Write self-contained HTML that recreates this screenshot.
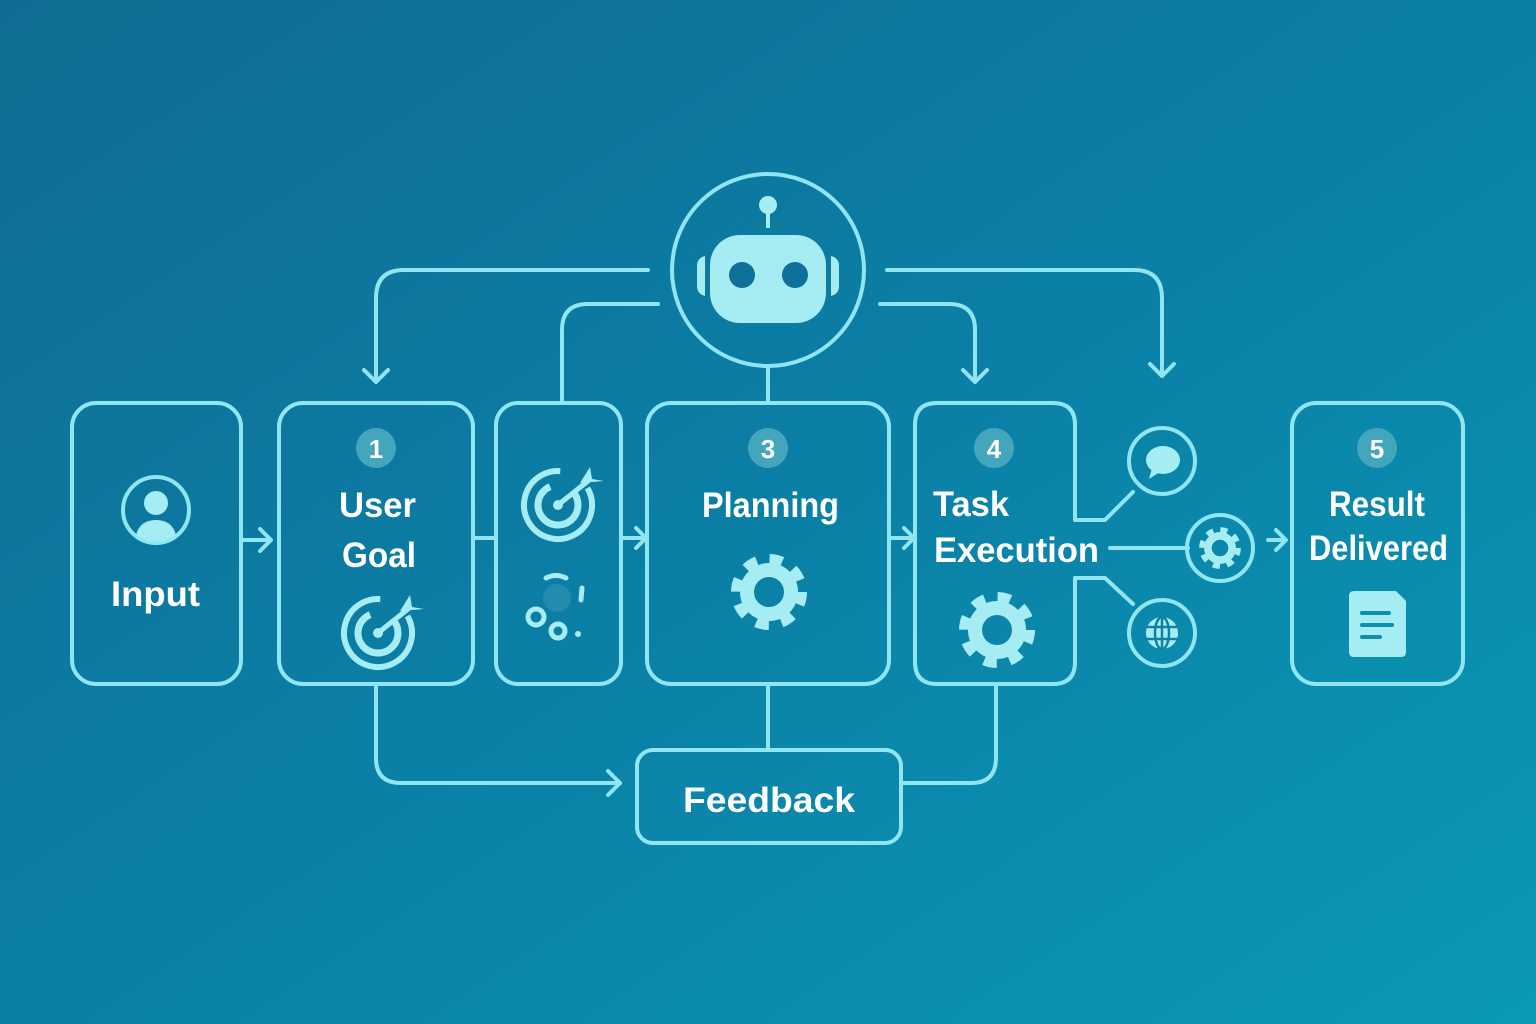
<!DOCTYPE html>
<html><head><meta charset="utf-8"><style>
html,body{margin:0;padding:0;width:1536px;height:1024px;overflow:hidden}
svg{display:block}
text{font-family:"Liberation Sans","DejaVu Sans",sans-serif;fill:#fff;font-weight:bold}
</style></head><body>
<svg width="1536" height="1024" viewBox="0 0 1536 1024" xmlns="http://www.w3.org/2000/svg">
<defs>
<linearGradient id="bg" x1="0" y1="0" x2="1" y2="1">
<stop offset="0" stop-color="#106c93"/><stop offset="0.5" stop-color="#0b7fa6"/><stop offset="1" stop-color="#0a9ab5"/>
</linearGradient>
<g id="gear">
<circle r="31" fill="none" stroke="#a6ecf3" stroke-width="14" stroke-dasharray="12.2 12.2"/>
<circle r="22" fill="none" stroke="#a6ecf3" stroke-width="14"/>
</g>
<g id="target">
<circle r="34" fill="none" stroke="#a6ecf3" stroke-width="6" stroke-dasharray="180 34" transform="rotate(-30)"/>
<circle r="20" fill="none" stroke="#a6ecf3" stroke-width="7" stroke-dasharray="100 26" transform="rotate(-40)"/>
<circle r="5" fill="#a6ecf3"/>
<line x1="0" y1="0" x2="30" y2="-24" stroke="#a6ecf3" stroke-width="5" stroke-linecap="round"/>
<path d="M22 -22 L32 -38 L34 -26 L46 -24 Z" fill="#a6ecf3"/>
</g>
</defs>
<rect width="1536" height="1024" fill="url(#bg)"/>
<g fill="none" stroke="#8fe6f0" stroke-width="4" stroke-linecap="round" stroke-linejoin="round">
<rect x="72" y="403" width="169" height="281" rx="24"/>
<rect x="279" y="403" width="194" height="281" rx="24"/>
<rect x="496" y="403" width="125" height="281" rx="22"/>
<rect x="647" y="403" width="242" height="281" rx="24"/>
<rect x="1292" y="403" width="171" height="281" rx="24"/>
<rect x="637" y="750" width="264" height="93" rx="16"/>
<path d="M1133 492 L1105 520 H1075 V425 Q1075 403 1053 403 H937 Q915 403 915 425 V662 Q915 684 937 684 H1053 Q1075 684 1075 662 V578 H1105 L1133 604"/>
<line x1="1110" y1="548" x2="1188" y2="548"/>
<circle cx="1162" cy="461" r="33"/>
<circle cx="1220" cy="548" r="33"/>
<circle cx="1162" cy="633" r="33"/>
<circle cx="768" cy="270" r="96"/>
<circle cx="156" cy="510" r="33"/>
<path d="M241 540 H270 M260 529 L271 540 L260 551"/>
<path d="M473 538 H496"/>
<path d="M621 538 H645 M636 528 L646 538 L636 548"/>
<path d="M889 538 H913 M904 528 L914 538 L904 548"/>
<path d="M1268 540 H1285 M1276 530 L1286 540 L1276 550"/>
<path d="M648 270 H404 Q376 270 376 298 V382 M364 370 L376 382 L388 370"/>
<path d="M887 270 H1134 Q1162 270 1162 298 V376 M1150 364 L1162 376 L1174 364"/>
<path d="M658 304 H588 Q562 304 562 330 V403"/>
<path d="M880 304 H949 Q975 304 975 330 V382 M963 370 L975 382 L987 370"/>
<path d="M768 366 V403"/>
<path d="M768 684 V750"/>
<path d="M376 684 V758 Q376 783 401 783 H620 M608 771 L620 783 L608 795"/>
<path d="M996 684 V758 Q996 783 971 783 H902"/>
</g>
<g fill="#a6ecf3">
<line x1="768" y1="208" x2="768" y2="228" stroke="#a6ecf3" stroke-width="4"/>
<circle cx="768" cy="205" r="9"/>
<rect x="710" y="235" width="116" height="88" rx="30"/>
<path d="M705 256 Q697 258 697 266 V286 Q697 294 705 296 Z"/>
<path d="M831 256 Q839 258 839 266 V286 Q839 294 831 296 Z"/>
</g>
<circle cx="742" cy="275" r="13" fill="#0f7099"/>
<circle cx="795" cy="275" r="13" fill="#0f7099"/>
<circle cx="156" cy="503" r="12" fill="#a6ecf3"/>
<path d="M136 535 Q140 520 156 520 Q172 520 176 535 Q166 542 156 542 Q146 542 136 535Z" fill="#a6ecf3"/>
<g fill="#4aaabf" opacity="0.9">
<circle cx="376" cy="448" r="20"/><circle cx="768" cy="448" r="20"/><circle cx="994" cy="448" r="20"/><circle cx="1377" cy="448" r="20"/>
</g>
<g font-size="26" text-anchor="middle">
<text x="376" y="458">1</text><text x="768" y="458">3</text><text x="994" y="458">4</text><text x="1377" y="458">5</text>
</g>
<g font-size="35" font-weight="bold" lengthAdjust="spacingAndGlyphs">
<text x="111" y="606" textLength="89" lengthAdjust="spacingAndGlyphs">Input</text>
<text x="339" y="517" textLength="77" lengthAdjust="spacingAndGlyphs">User</text>
<text x="342" y="567" textLength="74" lengthAdjust="spacingAndGlyphs">Goal</text>
<text x="702" y="517" textLength="137" lengthAdjust="spacingAndGlyphs">Planning</text>
<text x="1329" y="516" textLength="96" lengthAdjust="spacingAndGlyphs">Result</text>
<text x="1309" y="560" textLength="139" lengthAdjust="spacingAndGlyphs">Delivered</text>
<text x="683" y="812" textLength="172" lengthAdjust="spacingAndGlyphs">Feedback</text>
<text x="933" y="516" textLength="76" lengthAdjust="spacingAndGlyphs">Task</text>
<text x="934" y="562" textLength="165" lengthAdjust="spacingAndGlyphs">Execution</text>
</g>
<use href="#target" x="378" y="633"/>
<use href="#target" x="558" y="505"/>
<g fill="none" stroke="#a6ecf3" stroke-width="5" stroke-linecap="round">
<path d="M546 578 Q556 573 566 578"/><line x1="582" y1="588" x2="581" y2="600"/>
<circle cx="536" cy="617" r="8"/><circle cx="558" cy="631" r="7"/>
</g>
<circle cx="557" cy="598" r="14" fill="#3b98b5" opacity="0.5"/>
<circle cx="578" cy="634" r="3" fill="#a6ecf3"/>
<use href="#gear" x="769" y="592"/>
<use href="#gear" x="997" y="630"/>
<g transform="translate(1220 548) scale(0.55)"><use href="#gear"/></g>
<ellipse cx="1163" cy="460" rx="17" ry="14" fill="#a6ecf3"/>
<path d="M1152 468 L1149 479 L1160 472Z" fill="#a6ecf3"/>
<circle cx="1162" cy="633" r="16" fill="#a6ecf3"/>
<g fill="none" stroke="#0d82a5" stroke-width="2.5">
<ellipse cx="1162" cy="633" rx="7" ry="16"/><line x1="1146" y1="627" x2="1178" y2="627"/><line x1="1146" y1="639" x2="1178" y2="639"/><line x1="1162" y1="617" x2="1162" y2="649"/>
</g>
<path d="M1350 591 H1396 L1406 601 V652 Q1406 657 1401 657 H1354 Q1349 657 1349 652 V596 Q1349 591 1354 591Z" fill="#a6ecf3"/>
<g stroke="#0d90ae" stroke-width="4" stroke-linecap="round">
<line x1="1362" y1="613" x2="1389" y2="613"/><line x1="1362" y1="625" x2="1392" y2="625"/><line x1="1362" y1="637" x2="1380" y2="637"/>
</g>
</svg>
</body></html>
